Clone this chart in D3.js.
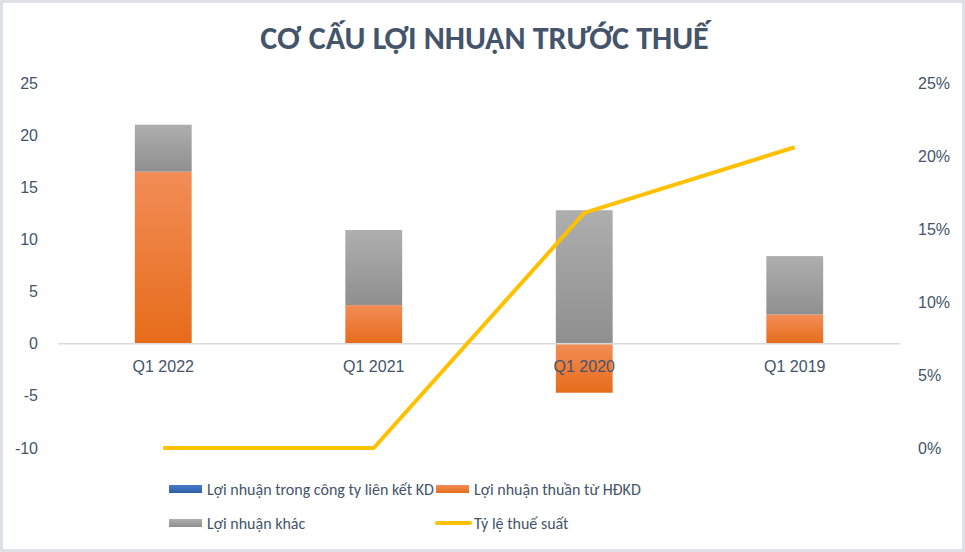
<!DOCTYPE html>
<html><head><meta charset="utf-8">
<script src="https://cdn.jsdelivr.net/npm/d3@7"></script>
<style>body{margin:0;background:#fff;}svg{display:block;font-family:Calibri,Carlito,Lato,"Noto Sans",sans-serif;}</style>
</head><body>
<svg id="c" width="965" height="552"></svg>
<script>
const categories = ["Q1 2022", "Q1 2021", "Q1 2020", "Q1 2019"];
const lienKet = [0, 0, 0, 0];
const thuanHDKD = [16.5, 3.7, -4.7, 2.8];
const khac = [4.5, 7.2, 12.8, 5.6];
const thueSuat = [0, 0, 0.161, 0.206];
const leftTicks = [25, 20, 15, 10, 5, 0, -5, -10];
const rightTicks = [0, 0.05, 0.10, 0.15, 0.20, 0.25];
const seriesNames = ["Lợi nhuận trong công ty liên kết KD", "Lợi nhuận thuần từ HĐKD", "Lợi nhuận khác", "Tỷ lệ thuế suất"];

const svg = d3.select("#c");
const W = 965, H = 552;
const textCol = "#44546A";

svg.append("rect").attr("x",1.5).attr("y",1.5).attr("width",W-3).attr("height",H-3)
  .attr("fill","#fff").attr("stroke","#DDE1E6").attr("stroke-width",3);

const defs = svg.append("defs");
function grad(id, c1, c2){
  const g = defs.append("linearGradient").attr("id",id).attr("x1",0).attr("y1",0).attr("x2",0).attr("y2",1);
  g.append("stop").attr("offset","0%").attr("stop-color",c1);
  g.append("stop").attr("offset","100%").attr("stop-color",c2);
}
grad("gOrange","#F28D57","#E66C1A");
grad("gGray","#AEAEAE","#8F8F8F");
grad("gBlue","#4A7CC9","#2F5DAA");

svg.append("text").attr("x",W/2 + 2).attr("y",49).attr("text-anchor","middle")
  .attr("font-size",32).attr("font-weight","bold").attr("fill",textCol)
  .text("CƠ CẤU LỢI NHUẬN TRƯỚC THUẾ");

const x = d3.scaleBand().domain(categories).range([58, 900]).paddingInner(0.73).paddingOuter(0.365);
const y = d3.scaleLinear().domain([-10, 25]).range([448, 83]);
const y2 = d3.scaleLinear().domain([0, 0.25]).range([448, 83]);

// left axis labels
const la = svg.append("g").attr("transform","translate(38,0)")
  .call(d3.axisLeft(y).tickValues(leftTicks).tickSize(0).tickPadding(0).tickFormat(d=>String(d)));
la.select(".domain").remove();
la.selectAll("text").attr("fill",textCol).attr("font-size",16).attr("font-family",null);

const ra = svg.append("g").attr("transform","translate(918,0)")
  .call(d3.axisRight(y2).tickValues(rightTicks).tickSize(0).tickPadding(0).tickFormat(d3.format(".0%")));
ra.select(".domain").remove();
ra.selectAll("text").attr("fill",textCol).attr("font-size",16).attr("font-family",null);

// bars
const data = categories.map((c,i)=>({c, lk:lienKet[i], th:thuanHDKD[i], kh:khac[i]}));
const g = svg.append("g");
data.forEach(d=>{
  let pos = 0, neg = 0;
  const segs = [[d.lk,"url(#gBlue)"],[d.th,"url(#gOrange)"],[d.kh,"url(#gGray)"]];
  segs.forEach(([v,f])=>{
    if (v === 0) return;
    let y0, y1;
    if (v > 0){ y0 = pos; y1 = pos + v; pos = y1; }
    else { y0 = neg; y1 = neg + v; neg = y1; }
    g.append("rect").attr("x",x(d.c)).attr("width",x.bandwidth())
      .attr("y",y(Math.max(y0,y1))).attr("height",Math.abs(y(y0)-y(y1))).attr("fill",f);
  });
});

// zero line
svg.append("line").attr("x1",58).attr("x2",900).attr("y1",y(0)).attr("y2",y(0))
  .attr("stroke","#D9D9D9").attr("stroke-width",1.5);

// category labels
const xa = svg.append("g").attr("transform",`translate(0,${y(0)})`)
  .call(d3.axisBottom(x).tickSize(0).tickPadding(17));
xa.select(".domain").remove();
xa.selectAll("text").attr("fill",textCol).attr("font-size",16).attr("font-family",null);

// line
const line = d3.line().x((d,i)=>x(categories[i])+x.bandwidth()/2).y(d=>y2(d));
svg.append("path").datum(thueSuat).attr("d",line).attr("fill","none")
  .attr("stroke","#FFC000").attr("stroke-width",4).attr("stroke-linejoin","round");

// legend
const lg = svg.append("g").attr("font-size",16).attr("fill",textCol);
const items = [
  {name:seriesNames[0], type:"rect", fill:"url(#gBlue)", x:169, y:489},
  {name:seriesNames[1], type:"rect", fill:"url(#gOrange)", x:436, y:489},
  {name:seriesNames[2], type:"rect", fill:"url(#gGray)", x:169, y:523},
  {name:seriesNames[3], type:"line", fill:"#FFC000", x:435, y:523}
];
items.forEach(it=>{
  if (it.type==="rect"){
    lg.append("rect").attr("x",it.x).attr("y",it.y-4).attr("width",33).attr("height",8).attr("fill",it.fill);
    lg.append("text").attr("x",it.x+38).attr("y",it.y).attr("dy","0.35em").text(it.name);
  } else {
    lg.append("line").attr("x1",it.x+2).attr("x2",it.x+35).attr("y1",it.y).attr("y2",it.y)
      .attr("stroke",it.fill).attr("stroke-width",4).attr("stroke-linecap","round");
    lg.append("text").attr("x",it.x+39).attr("y",it.y).attr("dy","0.35em").text(it.name);
  }
});
</script>
</body></html>
